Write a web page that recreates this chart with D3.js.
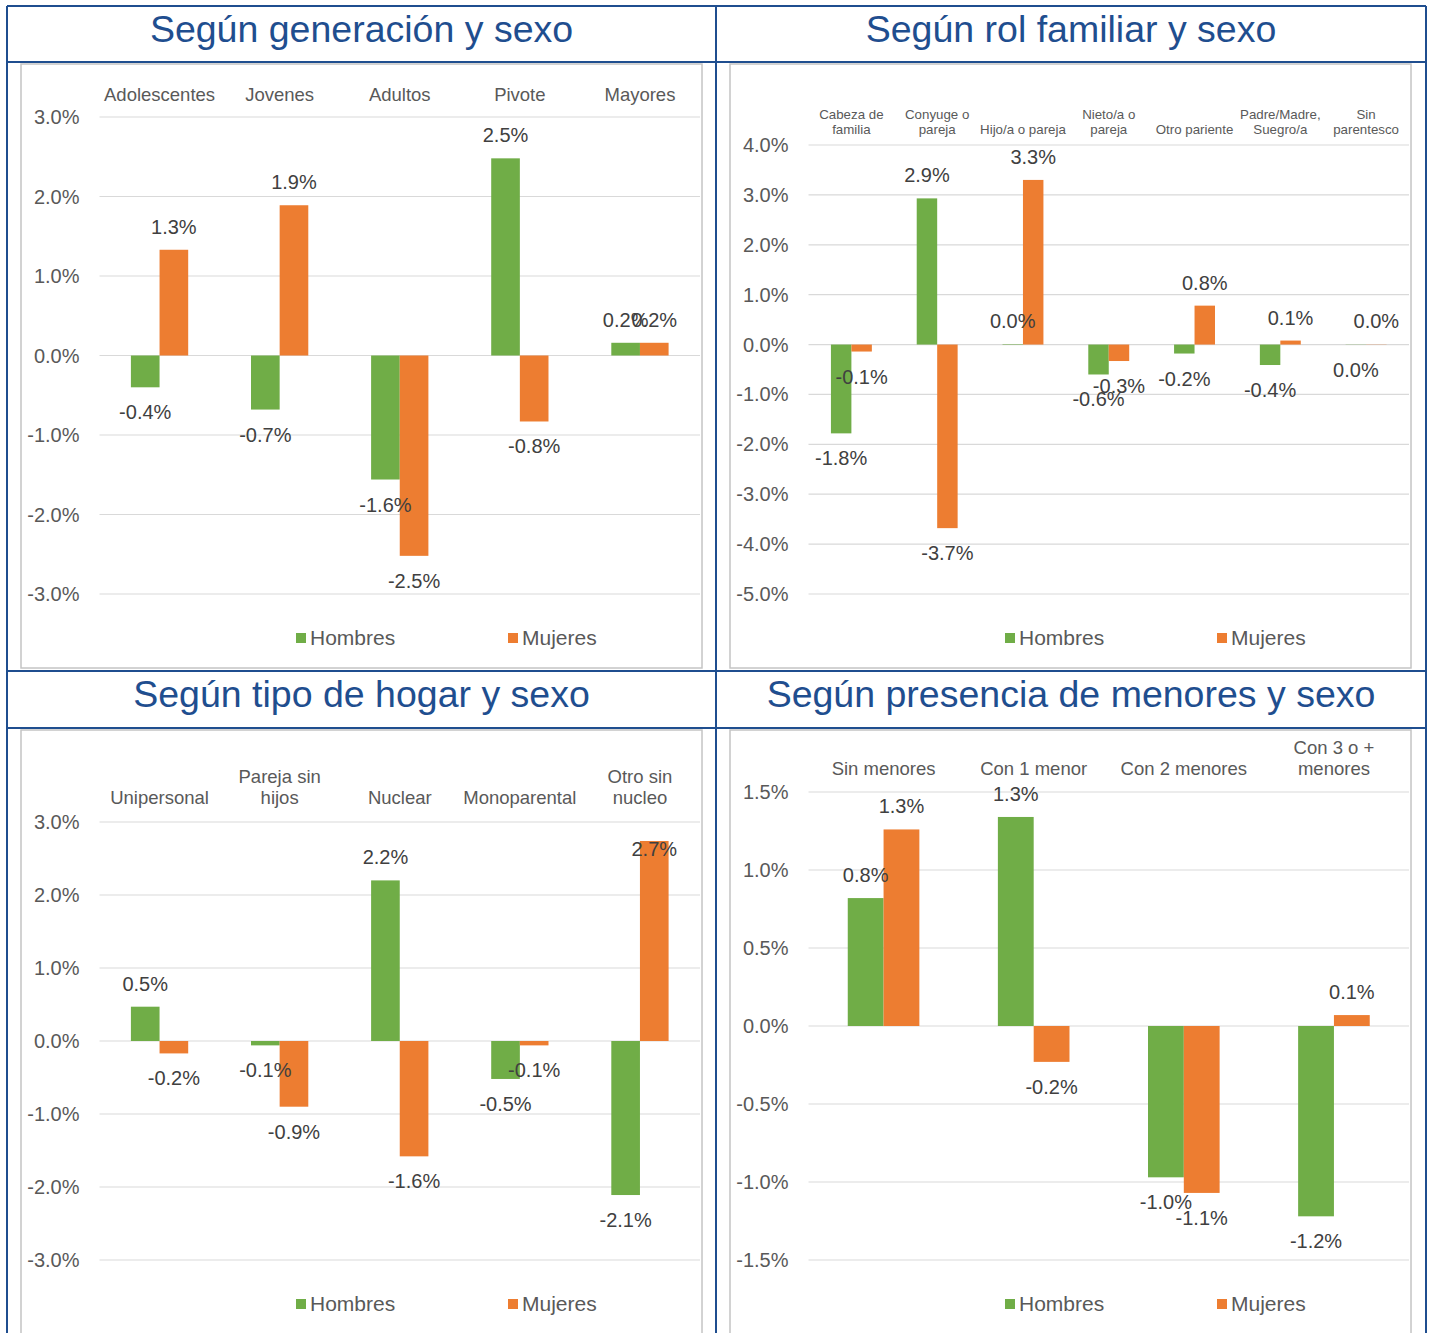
<!DOCTYPE html>
<html>
<head>
<meta charset="utf-8">
<script src="https://cdn.jsdelivr.net/npm/d3@7"></script>
<style>
  body { margin: 0; background: #fff; }
  text { font-family: "Liberation Sans", Arial, sans-serif; }
</style>
</head>
<body>
<div id="panel"></div>
<script>

// series
const seriesNames = ["Hombres", "Mujeres"];
const seriesColors = ["#70ad47", "#ed7d31"];

// Según generación y sexo
const generacionCats = ["Adolescentes", "Jovenes", "Adultos", "Pivote", "Mayores"];
const generacionHombres = [-0.40, -0.68, -1.56, 2.48, 0.16];
const generacionMujeres = [1.33, 1.89, -2.52, -0.83, 0.16];
const generacionTicks = [3, 2, 1, 0, -1, -2, -3];

// Según rol familiar y sexo
const rolCats = ["Cabeza de\nfamilia", "Conyuge o\npareja", "Hijo/a o pareja", "Nieto/a o\npareja",
                 "Otro pariente", "Padre/Madre,\nSuegro/a", "Sin\nparentesco"];
const rolHombres = [-1.78, 2.93, 0.01, -0.60, -0.18, -0.41, -0.004];
const rolMujeres = [-0.14, -3.68, 3.30, -0.33, 0.78, 0.08, 0.004];
const rolTicks = [4, 3, 2, 1, 0, -1, -2, -3, -4, -5];

// Según tipo de hogar y sexo
const hogarCats = ["Unipersonal", "Pareja sin\nhijos", "Nuclear", "Monoparental", "Otro sin\nnucleo"];
const hogarHombres = [0.47, -0.06, 2.20, -0.52, -2.11];
const hogarMujeres = [-0.17, -0.90, -1.58, -0.06, 2.74];
const hogarTicks = [3, 2, 1, 0, -1, -2, -3];

// Según presencia de menores y sexo
const menoresCats = ["Sin menores", "Con 1 menor", "Con 2 menores", "Con 3 o +\nmenores"];
const menoresHombres = [0.82, 1.34, -0.97, -1.22];
const menoresMujeres = [1.26, -0.23, -1.07, 0.07];
const menoresTicks = [1.5, 1.0, 0.5, 0, -0.5, -1.0, -1.5];

const W = 1431, H = 1333;
const blue = "#1f4e8f";

const svg = d3.select("#panel").append("svg")
    .attr("width", W).attr("height", H);

// table grid
const gridX = [7, 716, 1426];
const rowLines = [6, 62, 671, 728];

const charts = [
    {title: "Según generación y sexo", cats: generacionCats, h: generacionHombres, m: generacionMujeres,
     ticks: generacionTicks, col: 0, row: 0, topOff: 53, catSize: 18.5, catLine: 21, catGap: 22},
    {title: "Según rol familiar y sexo", cats: rolCats, h: rolHombres, m: rolMujeres,
     ticks: rolTicks, col: 1, row: 0, topOff: 81, catSize: 13.3, catLine: 15, catGap: 16},
    {title: "Según tipo de hogar y sexo", cats: hogarCats, h: hogarHombres, m: hogarMujeres,
     ticks: hogarTicks, col: 0, row: 1, topOff: 92, catSize: 18.5, catLine: 21, catGap: 24},
    {title: "Según presencia de menores y sexo", cats: menoresCats, h: menoresHombres, m: menoresMujeres,
     ticks: menoresTicks, col: 1, row: 1, topOff: 62, catSize: 18.5, catLine: 21, catGap: 23}
];

const fmtLabel = v => (Math.abs(v) < 0.05 ? 0 : v).toFixed(1) + "%";
const fmtTick = v => v.toFixed(1) + "%";

charts.forEach(c => {
    let cellX = gridX[c.col], cellW = gridX[c.col + 1] - gridX[c.col];
    let rowTop = rowLines[c.row * 2];
    let frameX = cellX + 14, frameY = rowLines[c.row * 2 + 1] + 2;
    let frameW = 681, frameH = 604;

    // title
    svg.append("text")
        .attr("x", cellX + cellW / 2)
        .attr("y", rowTop + 36)
        .attr("text-anchor", "middle")
        .attr("font-size", 37.5)
        .attr("fill", blue)
        .text(c.title);

    let g = svg.append("g");

    g.append("rect")
        .attr("x", frameX).attr("y", frameY)
        .attr("width", frameW).attr("height", frameH)
        .attr("fill", "#fff")
        .attr("stroke", "#c4c4c4")
        .attr("stroke-width", 1.5);

    let px0 = frameX + 78.5, px1 = frameX + 679;
    let py0 = frameY + c.topOff, py1 = frameY + 530;

    let y = d3.scaleLinear()
        .domain([d3.min(c.ticks), d3.max(c.ticks)])
        .range([py1, py0]);

    // gap width ~219% like Excel default
    let x0 = d3.scaleBand()
        .domain(c.cats)
        .range([px0, px1])
        .paddingInner(0.523)
        .paddingOuter(0.2615);
    let x1 = d3.scaleBand()
        .domain(seriesNames)
        .range([0, x0.bandwidth()]);

    // gridlines
    g.selectAll(".grid").data(c.ticks).enter()
        .append("line")
        .attr("x1", px0).attr("x2", px1)
        .attr("y1", d => y(d)).attr("y2", d => y(d))
        .attr("stroke", "#d9d9d9")
        .attr("stroke-width", 1.2);

    // tick labels
    g.selectAll(".tick").data(c.ticks).enter()
        .append("text")
        .attr("x", px0 - 20)
        .attr("y", d => y(d))
        .attr("dy", "0.35em")
        .attr("text-anchor", "end")
        .attr("font-size", 20)
        .attr("fill", "#595959")
        .text(fmtTick);

    // category labels (bottom aligned, above plot)
    c.cats.forEach(name => {
        let lines = name.split("\n");
        let cx = x0(name) + x0.bandwidth() / 2;
        lines.forEach((ln, i) => {
            g.append("text")
                .attr("x", cx)
                .attr("y", py0 - c.catGap - (lines.length - 1 - i) * c.catLine)
                .attr("dy", "0.35em")
                .attr("text-anchor", "middle")
                .attr("font-size", c.catSize)
                .attr("fill", "#595959")
                .text(ln);
        });
    });

    let rows = [];
    c.cats.forEach((name, i) => {
        rows.push({cat: name, s: "Hombres", v: c.h[i]});
        rows.push({cat: name, s: "Mujeres", v: c.m[i]});
    });
    let color = d3.scaleOrdinal().domain(seriesNames).range(seriesColors);

    g.selectAll(".bar").data(rows).enter()
        .append("rect")
        .attr("x", d => x0(d.cat) + x1(d.s))
        .attr("width", x1.bandwidth())
        .attr("y", d => y(Math.max(0, d.v)))
        .attr("height", d => Math.abs(y(d.v) - y(0)))
        .attr("fill", d => color(d.s));

    // data labels, outside end; pushed inside when they leave the plot
    g.selectAll(".lbl").data(rows).enter()
        .append("text")
        .attr("x", d => x0(d.cat) + x1(d.s) + x1.bandwidth() / 2)
        .attr("y", d => {
            if (d.v >= 0) {
                let ly = y(d.v) - 23;
                if (ly < py0 - 2) ly = y(d.v) + 8;
                return ly;
            }
            return y(d.v) + 25;
        })
        .attr("dy", "0.35em")
        .attr("text-anchor", "middle")
        .attr("font-size", 20)
        .attr("fill", "#404040")
        .text(d => fmtLabel(d.v));

    // legend
    let lg = g.append("g")
        .attr("transform", "translate(" + frameX + "," + (frameY + 574) + ")");
    let legX = [275, 487];
    seriesNames.forEach((s, i) => {
        lg.append("rect")
            .attr("x", legX[i]).attr("y", -5)
            .attr("width", 10).attr("height", 10)
            .attr("fill", seriesColors[i]);
        lg.append("text")
            .attr("x", legX[i] + 14)
            .attr("y", 0)
            .attr("dy", "0.35em")
            .attr("font-size", 21)
            .attr("fill", "#595959")
            .text(s);
    });
});

// blue table lines on top
gridX.forEach(x => {
    svg.append("line")
        .attr("x1", x).attr("x2", x)
        .attr("y1", rowLines[0]).attr("y2", H + 5)
        .attr("stroke", blue).attr("stroke-width", 2);
});
rowLines.forEach(yy => {
    svg.append("line")
        .attr("x1", gridX[0]).attr("x2", gridX[2])
        .attr("y1", yy).attr("y2", yy)
        .attr("stroke", blue).attr("stroke-width", 2);
});

</script>
</body>
</html>
